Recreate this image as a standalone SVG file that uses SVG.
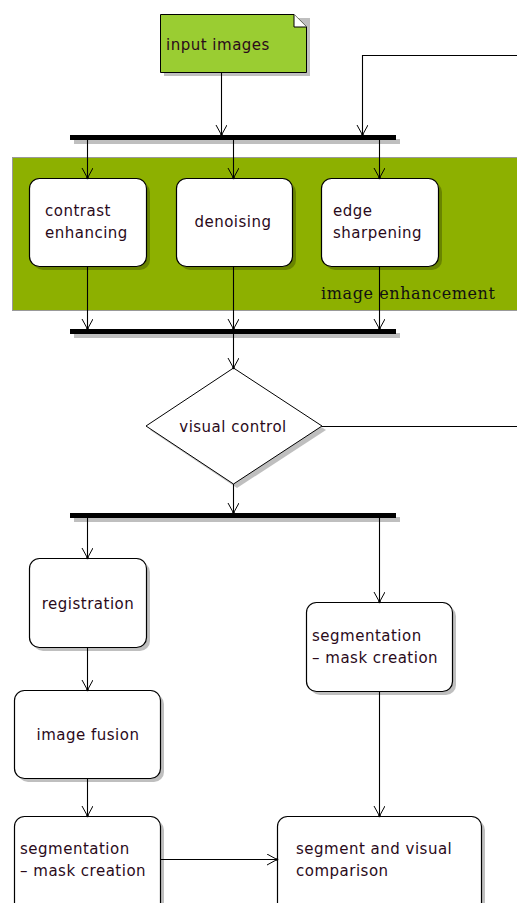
<svg xmlns="http://www.w3.org/2000/svg" width="517" height="903" viewBox="0 0 517 903">
<style>
.box{fill:#fff;stroke:#000;stroke-width:1.2}
.sh{fill:#000;opacity:0.25}
.bar{fill:#000}
.t{font-family:"DejaVu Sans",sans-serif;font-size:15px;letter-spacing:0.5px;fill:#2a0a1a}
.ln{stroke:#000;stroke-width:1.1;fill:none}
</style>
<defs>
<marker id="a" markerWidth="12" markerHeight="12" refX="10" refY="5.5" orient="auto" markerUnits="userSpaceOnUse">
<path d="M0,0 L10,5.5 L0,11" fill="none" stroke="#000" stroke-width="1"/>
<circle cx="10" cy="5.5" r="1.3" fill="#000"/>
</marker>
</defs>
<rect x="0" y="0" width="517" height="903" fill="#fff"/>

<g id="group-image-enhancement">
<rect x="12.5" y="157.5" width="506" height="153" fill="#8db000" stroke="#999" stroke-width="1"/>
<text x="321" y="299" font-family="DejaVu Serif,serif" font-size="16" letter-spacing="0.6" fill="#111">image enhancement</text>
</g>

<g id="input-images">
<path d="M164,18 H310 V76 H164 Z" class="sh"/>
<path d="M160.5,14.5 H294 L306.5,27 V72.5 H160.5 Z" fill="#9acd32" stroke="#000" stroke-width="1"/>
<path d="M294,14.5 V27 H306.5" fill="#fff" stroke="#000" stroke-width="1"/>
<text x="166" y="50" class="t">input images</text>
</g>

<g id="bar1"><rect x="74" y="139" width="326" height="5" class="sh"/><rect x="70" y="135" width="326" height="5" class="bar"/></g>
<g id="bar2"><rect x="74" y="333" width="326" height="5" class="sh"/><rect x="70" y="329" width="326" height="5" class="bar"/></g>
<g id="bar3"><rect x="74" y="517" width="326" height="5" class="sh"/><rect x="70" y="513" width="326" height="5" class="bar"/></g>

<g id="contrast-enhancing">
<rect x="33" y="182" width="117" height="88" rx="10" class="sh"/>
<rect x="29.5" y="178.5" width="117" height="88" rx="10" class="box"/>
<text x="45" y="216" class="t">contrast</text>
<text x="45" y="238" class="t">enhancing</text>
</g>
<g id="denoising">
<rect x="180" y="182" width="116" height="88" rx="10" class="sh"/>
<rect x="176.5" y="178.5" width="116" height="88" rx="10" class="box"/>
<text x="233" y="227" class="t" text-anchor="middle">denoising</text>
</g>
<g id="edge-sharpening">
<rect x="325" y="182" width="117" height="88" rx="10" class="sh"/>
<rect x="321.5" y="178.5" width="117" height="88" rx="10" class="box"/>
<text x="333" y="216" class="t">edge</text>
<text x="333" y="238" class="t">sharpening</text>
</g>

<g id="visual-control">
<path d="M237,372 L326,430 L237,488 L150,430 Z" class="sh"/>
<path d="M233.5,368 L322,426 L233.5,484 L146,426 Z" fill="#fff" stroke="#000" stroke-width="1"/>
<text x="233" y="432" class="t" text-anchor="middle">visual control</text>
</g>

<g id="registration">
<rect x="33" y="562" width="117" height="89" rx="10" class="sh"/>
<rect x="29.5" y="558.5" width="117" height="89" rx="10" class="box"/>
<text x="88" y="609" class="t" text-anchor="middle">registration</text>
</g>
<g id="image-fusion">
<rect x="18" y="694" width="146" height="88" rx="10" class="sh"/>
<rect x="14.5" y="690.5" width="146" height="88" rx="10" class="box"/>
<text x="88" y="740" class="t" text-anchor="middle">image fusion</text>
</g>
<g id="segmentation-left">
<rect x="18" y="820" width="146" height="100" rx="10" class="sh"/>
<rect x="14.5" y="816.5" width="146" height="100" rx="10" class="box"/>
<text x="20" y="854" class="t">segmentation</text>
<text x="20" y="876" class="t">– mask creation</text>
</g>
<g id="segmentation-right">
<rect x="310" y="606" width="146" height="89" rx="10" class="sh"/>
<rect x="306.5" y="602.5" width="146" height="89" rx="10" class="box"/>
<text x="312" y="641" class="t">segmentation</text>
<text x="312" y="663" class="t">– mask creation</text>
</g>
<g id="segment-visual-comparison">
<rect x="281" y="820" width="204" height="100" rx="10" class="sh"/>
<rect x="277.5" y="816.5" width="204" height="100" rx="10" class="box"/>
<text x="296" y="854" class="t">segment and visual</text>
<text x="296" y="876" class="t">comparison</text>
</g>

<g id="connectors" class="ln">
<path d="M221.5,73 V135" marker-end="url(#a)"/>
<path d="M517,55.5 H362.5 V135" marker-end="url(#a)"/>
<path d="M87.5,140 V178" marker-end="url(#a)"/>
<path d="M233.5,140 V178" marker-end="url(#a)"/>
<path d="M379.5,140 V178" marker-end="url(#a)"/>
<path d="M87.5,267 V329" marker-end="url(#a)"/>
<path d="M233.5,267 V329" marker-end="url(#a)"/>
<path d="M379.5,267 V329" marker-end="url(#a)"/>
<path d="M233.5,334 V368" marker-end="url(#a)"/>
<path d="M322,426.5 H517"/>
<path d="M233.5,484 V513" marker-end="url(#a)"/>
<path d="M87.5,518 V558" marker-end="url(#a)"/>
<path d="M379.5,518 V602" marker-end="url(#a)"/>
<path d="M87.5,648 V690" marker-end="url(#a)"/>
<path d="M87.5,779 V816" marker-end="url(#a)"/>
<path d="M379.5,692 V816" marker-end="url(#a)"/>
<path d="M161,859.5 H277" marker-end="url(#a)"/>
</g>
</svg>
